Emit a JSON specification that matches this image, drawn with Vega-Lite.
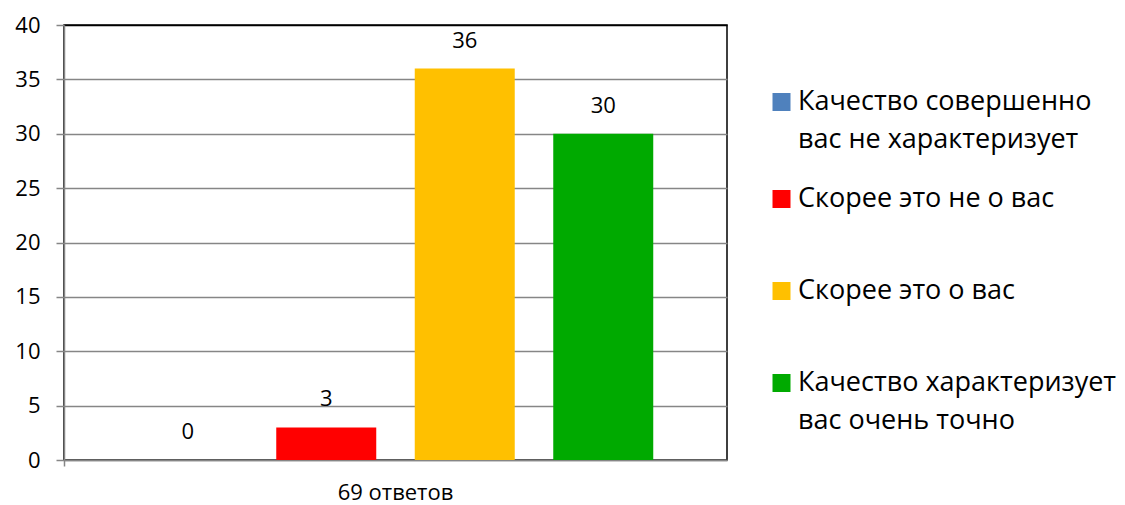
{
  "$schema": "https://vega.github.io/schema/vega-lite/v6.json",
  "width": 663,
  "height": 435,
  "autosize": "none",
  "padding": {"left": 64, "top": 25, "right": 398, "bottom": 45},
  "background": "white",
  "config": {
    "view": {"stroke": "black", "strokeWidth": 1.5},
    "font": "Open Sans"
  },
  "data": {
    "values": [
      {"group": "69 ответов", "answer": "Качество совершенно вас не характеризует", "count": 0},
      {"group": "69 ответов", "answer": "Скорее это не о вас", "count": 3},
      {"group": "69 ответов", "answer": "Скорее это о вас", "count": 36},
      {"group": "69 ответов", "answer": "Качество характеризует вас очень точно", "count": 30}
    ]
  },
  "encoding": {
    "x": {
      "field": "group",
      "type": "nominal",
      "scale": {"paddingInner": 0, "paddingOuter": 0},
      "axis": {
        "title": null,
        "labelAngle": 0,
        "labelFontSize": 22,
        "labelColor": "black",
        "labelPadding": 16,
        "tickSize": 6,
        "tickWidth": 1.5,
        "tickColor": "#868686",
        "domainColor": "#868686",
        "domainWidth": 1.5,
        "bandPosition": 0,
        "grid": false
      }
    },
    "xOffset": {
      "field": "answer",
      "type": "nominal",
      "scale": {
        "domain": ["Качество совершенно вас не характеризует", "Скорее это не о вас", "Скорее это о вас", "Качество характеризует вас очень точно"],
        "paddingInner": 0.278,
        "paddingOuter": 0.5325
      }
    },
    "y": {
      "field": "count",
      "type": "quantitative",
      "scale": {"domain": [0, 40], "nice": false},
      "axis": {
        "title": null,
        "values": [0, 5, 10, 15, 20, 25, 30, 35, 40],
        "labelFontSize": 22,
        "labelColor": "black",
        "labelPadding": 16,
        "tickSize": 8,
        "tickWidth": 1.5,
        "tickColor": "#868686",
        "domainColor": "#868686",
        "domainWidth": 1.5,
        "gridWidth": 1.5,
        "gridColor": {"condition": {"test": "datum.value == 40", "value": "black"}, "value": "#868686"}
      }
    }
  },
  "layer": [
    {
      "mark": {"type": "bar"},
      "encoding": {
        "color": {
          "field": "answer",
          "type": "nominal",
          "scale": {
            "domain": ["Качество совершенно вас не характеризует", "Скорее это не о вас", "Скорее это о вас", "Качество характеризует вас очень точно"],
            "range": ["#4F81BD", "#FF0000", "#FFC000", "#00AA00"]
          },
          "legend": {
            "title": null,
            "orient": "none",
            "legendX": 704,
            "legendY": 31,
            "symbolType": "square",
            "symbolSize": 324,
            "symbolStrokeWidth": 0,
            "labelFontSize": 27,
            "labelColor": "black",
            "labelOffset": 3,
            "labelLimit": 400,
            "clipHeight": 92,
            "rowPadding": 0,
            "labelExpr": "datum.label == 'Качество совершенно вас не характеризует' ? ['Качество совершенно', 'вас не характеризует'] : datum.label == 'Качество характеризует вас очень точно' ? ['Качество характеризует', 'вас очень точно'] : datum.label",
            "encode": {"labels": {"update": {"lineHeight": {"value": 38}}}}
          }
        }
      }
    },
    {
      "mark": {"type": "text", "fontSize": 22, "dy": -28, "color": "black"},
      "encoding": {"text": {"field": "count", "type": "quantitative"}}
    }
  ]
}
